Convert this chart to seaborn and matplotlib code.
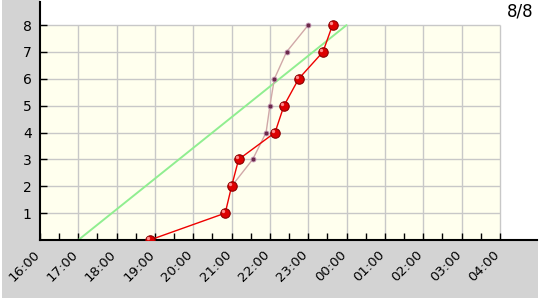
import matplotlib
matplotlib.use("Agg")
import matplotlib.pyplot as plt
import matplotlib.transforms as mtrans
import seaborn as sns
import numpy as np
from matplotlib.patches import Rectangle

# ---- data ----
hour_labels = ["16:00", "17:00", "18:00", "19:00", "20:00", "21:00", "22:00",
               "23:00", "00:00", "01:00", "02:00", "03:00", "04:00"]
count_ticks = [1, 2, 3, 4, 5, 6, 7, 8]
red_times = ["18:52", "20:50", "21:00", "21:11", "22:08", "22:22", "22:45", "23:23", "23:38"]
red_counts = [0, 1, 2, 3, 4, 5, 6, 7, 8]
pink_times = ["21:00", "21:33", "21:54", "22:00", "22:07", "22:26", "23:00"]
pink_counts = [2, 3, 4, 5, 6, 7, 8]
target_times = ["17:00", "00:00"]
target_counts = [0, 8]
title_text = "8/8"


def to_hours(t):
    h, m = map(int, t.split(":"))
    v = h + m / 60.0 - 16
    if v < 0:
        v += 24
    return v


red_x = [to_hours(t) for t in red_times]
pink_x = [to_hours(t) for t in pink_times]
target_x = [to_hours(t) for t in target_times]
hour_pos = [to_hours(t) for t in hour_labels]

sns.set_theme(style="white")
plt.rcParams['font.family'] = ['DejaVu Sans']

W, H = 540, 300
fig = plt.figure(figsize=(W / 100, H / 100), dpi=100, facecolor='white')
gray = '#d3d3d3'
fig.patches.append(Rectangle((2 / W, 2 / H), 38 / W, 298 / H, transform=fig.transFigure,
                             facecolor=gray, edgecolor='none', zorder=-5))
fig.patches.append(Rectangle((2 / W, 2 / H), 536 / W, 58 / H, transform=fig.transFigure,
                             facecolor=gray, edgecolor='none', zorder=-5))

ax = fig.add_axes([40 / W, 60 / H, 497 / W, 238 / H])
ax.set_facecolor('white')

xmax_grid = hour_pos[-1]
ymax_grid = count_ticks[-1]
ax.add_patch(Rectangle((0, 0), xmax_grid, ymax_grid, facecolor='#ffffee',
                       edgecolor='none', zorder=0))
ax.hlines(count_ticks, 0, xmax_grid, color='#c8c8c8', lw=1, zorder=0.5)
ax.vlines(hour_pos[1:], 0, ymax_grid, color='#c8c8c8', lw=1, zorder=0.5)

sns.lineplot(x=target_x, y=target_counts, color='#90ee90', lw=1.4, ax=ax, zorder=2)
sns.lineplot(x=pink_x, y=pink_counts, sort=False, color='#d0a8a8', lw=1, marker='o',
             markersize=3.5, markerfacecolor='#6a2a4a', markeredgecolor='#c090b0',
             markeredgewidth=0.6, ax=ax, zorder=3)
sns.lineplot(x=red_x, y=red_counts, sort=False, color='#ee0000', lw=1, marker='o',
             markersize=6.8, markerfacecolor='#dd0000', markeredgecolor='#8a0000',
             markeredgewidth=0.8, ax=ax, zorder=4)
# sphere highlight on the red markers
hl = mtrans.ScaledTranslation(-1.4 / 72, 1.4 / 72, fig.dpi_scale_trans)
ax.plot(red_x, red_counts, linestyle='none', marker='o', markersize=2.4,
        markerfacecolor='#ff8a8a', markeredgecolor='none',
        transform=ax.transData + hl, zorder=5)

ax.set_xlim(0, 12.97)
ax.set_ylim(0, 8.86)
ax.set_xticks(hour_pos)
ax.set_xticks(np.array(hour_pos[:-1]) + 0.5, minor=True)
ax.set_yticks(count_ticks)
ax.set_yticklabels([str(c) for c in count_ticks], fontsize=10)
ax.tick_params(axis='both', which='both', direction='in', length=5, width=1,
               color='black', labelcolor='black', bottom=True, left=True,
               labelbottom=False, labelleft=True)
ax.tick_params(axis='y', which='major', pad=6)
ax.set_xlabel('')
ax.set_ylabel('')

# rotated hour labels under the axis
lbl_off = mtrans.ScaledTranslation(-7 / 100, -8 / 100, fig.dpi_scale_trans)
for pos, lbl in zip(hour_pos, hour_labels):
    ax.text(pos, 0, lbl, transform=ax.get_xaxis_transform() + lbl_off,
            rotation=45, ha='right', va='top', rotation_mode='anchor',
            fontsize=9.5, color='black', clip_on=False)

for s in ['top', 'right']:
    ax.spines[s].set_visible(False)
for s in ['left', 'bottom']:
    ax.spines[s].set_color('black')
    ax.spines[s].set_linewidth(1.5)

fig.text(533 / W, 1 - 12 / H, title_text, ha='right', va='center', fontsize=12, color='black')

fig.savefig('out.png', dpi=100, facecolor='white')
